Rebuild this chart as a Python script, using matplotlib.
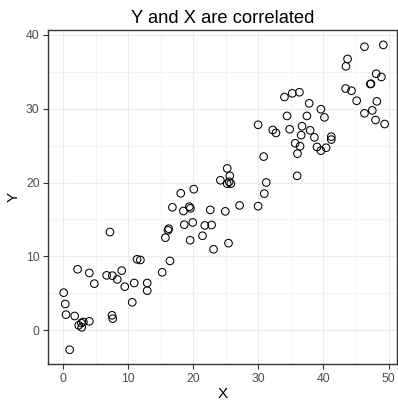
import matplotlib
matplotlib.use("Agg")
import matplotlib.pyplot as plt
from matplotlib.ticker import MultipleLocator

plt.rcParams['font.family'] = ['Liberation Sans', 'DejaVu Sans']

title = "Y and X are correlated"
x_label = "X"
y_label = "Y"
x_ticks = [0, 10, 20, 30, 40, 50]
y_ticks = [0, 10, 20, 30, 40]

x_vals = [
    7.18, 2.2, 4.0, 4.77, 6.67, 7.54, 8.98, 8.3, 9.45, 11.34,
    11.85, 10.9, 12.9, 12.9, 10.6, 0.06, 0.3, 0.42, 1.75, 2.37,
    2.77, 3.08, 2.83, 4.0, 7.49, 7.6, 0.98, 18.06, 20.06, 16.77,
    18.46, 19.38, 19.54, 22.6, 24.9, 27.1, 29.95, 30.9, 16.2, 16.1,
    15.7, 18.6, 19.9, 21.75, 22.8, 19.5, 21.4, 23.1, 25.4, 16.4,
    15.2, 29.95, 30.8, 25.2, 25.6, 24.15, 25.5, 25.2, 25.75, 31.2,
    46.3, 49.2, 43.7, 43.45, 48.1, 48.9, 47.2, 47.3, 43.4, 44.3,
    45.1, 48.2, 46.3, 47.5, 48.0, 49.4, 34.0, 35.2, 36.3, 37.8,
    39.6, 40.15, 34.4, 37.45, 34.8, 36.7, 37.95, 36.57, 38.6, 35.65,
    36.4, 36.0, 39.0, 39.6, 40.4, 41.2, 41.2, 35.95, 32.2, 32.7,
]
y_vals = [
    13.3, 8.27, 7.77, 6.33, 7.45, 7.41, 8.09, 6.9, 5.92, 9.62,
    9.53, 6.42, 6.42, 5.38, 3.81, 5.11, 3.58, 2.14, 1.96, 0.70,
    1.01, 1.15, 0.43, 1.24, 2.05, 1.6, -2.6, 18.54, 19.1, 16.65,
    16.15, 16.73, 16.51, 16.3, 16.1, 16.9, 16.8, 18.5, 13.76, 13.54,
    12.54, 14.3, 14.6, 14.2, 14.26, 12.2, 12.8, 10.97, 11.8, 9.4,
    7.86, 27.8, 23.5, 21.9, 20.9, 20.3, 20.1, 19.84, 19.84, 20.0,
    38.35, 38.6, 36.7, 35.7, 34.7, 34.26, 33.3, 33.35, 32.7, 32.4,
    31.05, 30.97, 29.35, 29.75, 28.45, 27.9, 31.55, 32.05, 32.2, 30.7,
    29.9, 28.8, 29.0, 29.0, 27.2, 27.6, 27.05, 26.4, 26.1, 25.3,
    24.9, 23.9, 24.8, 24.3, 24.7, 26.2, 25.8, 20.9, 27.1, 26.7,
]

W, H = 398, 401
fig = plt.figure(figsize=(W / 100, H / 100), dpi=100)
left, right, top, bottom = 48, 397, 30.3, 364.3
ax = fig.add_axes([left / W, (H - bottom) / H, (right - left) / W, (bottom - top) / H])

ax.scatter(x_vals, y_vals, s=30, facecolors='none', edgecolors='black', linewidths=0.75, zorder=3)

ax.set_xlim(-2.35, 51.3)
ax.set_ylim(-4.57, 40.57)
ax.set_xticks(x_ticks)
ax.set_yticks(y_ticks)
ax.xaxis.set_minor_locator(MultipleLocator(5))
ax.yaxis.set_minor_locator(MultipleLocator(5))

ax.grid(which='major', color='#EBEBEB', linewidth=0.8, zorder=0)
ax.grid(which='minor', color='#EBEBEB', linewidth=0.4, zorder=0)
ax.set_axisbelow(True)

for s in ax.spines.values():
    s.set_color('#333333')
    s.set_linewidth(1.0)

ax.tick_params(which='major', length=3.8, width=0.8, color='#333333',
               labelsize=8.8, labelcolor='#4D4D4D', pad=2.2)
ax.tick_params(which='minor', length=0)

ax.set_xlabel(x_label, fontsize=11, color='black', labelpad=2)
ax.set_ylabel(y_label, fontsize=11, color='black', labelpad=4)
ax.set_title(title, fontsize=13.2, color='black', pad=5)

fig.savefig("out.png", dpi=100)
